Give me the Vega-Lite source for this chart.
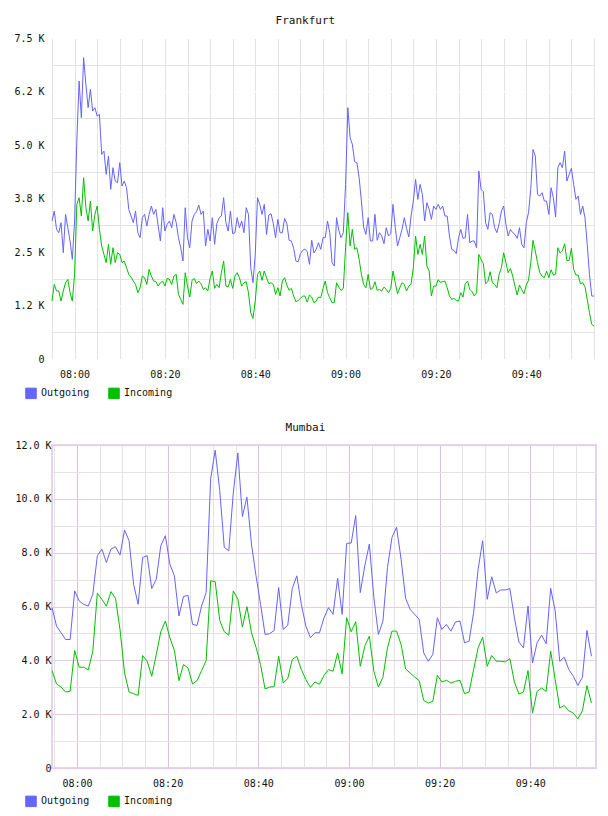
{
  "$schema": "https://vega.github.io/schema/vega-lite/v6.json",
  "background": "white",
  "padding": {"left": 13, "top": 15, "right": 8, "bottom": 4},
  "bounds": "flush",
  "spacing": 86,
  "config": {
    "font": "DejaVu Sans Mono",
    "axis": {
      "labelFont": "DejaVu Sans Mono",
      "labelFontSize": 10,
      "labelColor": "#111111",
      "domain": false,
      "ticks": false,
      "labelFlush": false,
      "labelOverlap": false
    },
    "title": {
      "font": "DejaVu Sans Mono",
      "fontSize": 11,
      "fontWeight": "normal",
      "color": "#111111",
      "anchor": "middle",
      "frame": "bounds",
      "offset": 7
    },
    "legend": {
      "direction": "horizontal",
      "padding": 0,
      "symbolType": "square",
      "symbolSize": 110,
      "symbolOpacity": 1,
      "symbolStrokeColor": "#808080",
      "symbolStrokeWidth": 1,
      "labelFont": "DejaVu Sans Mono",
      "labelFontSize": 10,
      "labelColor": "#111111",
      "labelOffset": 4,
      "columnPadding": 16
    }
  },
  "resolve": {
    "scale": {"color": "independent", "stroke": "independent"},
    "legend": {"color": "independent"}
  },
  "datasets": {
    "fra": [
      {"t":"07:55:00","Outgoing":3224,"Incoming":1354},{"t":"07:55:30","Outgoing":3457,"Incoming":1743},{"t":"07:56:00","Outgoing":3029,"Incoming":1588},{"t":"07:56:30","Outgoing":2951,"Incoming":1588},
      {"t":"07:57:00","Outgoing":3185,"Incoming":1354},{"t":"07:57:30","Outgoing":2483,"Incoming":1588},{"t":"07:58:00","Outgoing":3379,"Incoming":1782},{"t":"07:58:30","Outgoing":3068,"Incoming":1860},
      {"t":"07:59:00","Outgoing":2756,"Incoming":1549},{"t":"07:59:30","Outgoing":2328,"Incoming":1354},{"t":"08:00:00","Outgoing":3224,"Incoming":1977},{"t":"08:00:30","Outgoing":5093,"Incoming":3613},
      {"t":"08:01:00","Outgoing":6495,"Incoming":3769},{"t":"08:01:30","Outgoing":5638,"Incoming":3340},{"t":"08:02:00","Outgoing":7040,"Incoming":4236},{"t":"08:02:30","Outgoing":6417,"Incoming":3535},
      {"t":"08:03:00","Outgoing":5872,"Incoming":3224},{"t":"08:03:30","Outgoing":6300,"Incoming":3691},{"t":"08:04:00","Outgoing":5794,"Incoming":2990},{"t":"08:04:30","Outgoing":5872,"Incoming":3379},
      {"t":"08:05:00","Outgoing":5677,"Incoming":3574},{"t":"08:05:30","Outgoing":5716,"Incoming":3029},{"t":"08:06:00","Outgoing":4781,"Incoming":2639},{"t":"08:06:30","Outgoing":4859,"Incoming":2444},
      {"t":"08:07:00","Outgoing":4314,"Incoming":2250},{"t":"08:07:30","Outgoing":4742,"Incoming":2678},{"t":"08:08:00","Outgoing":3963,"Incoming":2211},{"t":"08:08:30","Outgoing":4470,"Incoming":2600},
      {"t":"08:09:00","Outgoing":4158,"Incoming":2250},{"t":"08:09:30","Outgoing":4119,"Incoming":2483},{"t":"08:10:00","Outgoing":4587,"Incoming":2444},{"t":"08:10:30","Outgoing":4041,"Incoming":2250},
      {"t":"08:11:00","Outgoing":4158,"Incoming":2289},{"t":"08:11:30","Outgoing":4002,"Incoming":2133},{"t":"08:12:00","Outgoing":3496,"Incoming":1977},{"t":"08:12:30","Outgoing":3340,"Incoming":1915},
      {"t":"08:13:00","Outgoing":3185,"Incoming":1821},{"t":"08:13:30","Outgoing":3457,"Incoming":1743},{"t":"08:14:00","Outgoing":2951,"Incoming":1549},{"t":"08:14:30","Outgoing":2834,"Incoming":1665},
      {"t":"08:15:00","Outgoing":3301,"Incoming":1938},{"t":"08:15:30","Outgoing":3379,"Incoming":1899},{"t":"08:16:00","Outgoing":3107,"Incoming":1743},{"t":"08:16:30","Outgoing":3379,"Incoming":2094},
      {"t":"08:17:00","Outgoing":3574,"Incoming":1938},{"t":"08:17:30","Outgoing":3379,"Incoming":1821},{"t":"08:18:00","Outgoing":3496,"Incoming":1806},{"t":"08:18:30","Outgoing":3107,"Incoming":1704},
      {"t":"08:19:00","Outgoing":2756,"Incoming":1782},{"t":"08:19:30","Outgoing":3535,"Incoming":1821},{"t":"08:20:00","Outgoing":2990,"Incoming":1704},{"t":"08:20:30","Outgoing":3146,"Incoming":1883},
      {"t":"08:21:00","Outgoing":3224,"Incoming":1860},{"t":"08:21:30","Outgoing":3068,"Incoming":1743},{"t":"08:22:00","Outgoing":3379,"Incoming":1938},{"t":"08:22:30","Outgoing":3185,"Incoming":1977},
      {"t":"08:23:00","Outgoing":2834,"Incoming":1509},{"t":"08:23:30","Outgoing":2600,"Incoming":1393},{"t":"08:24:00","Outgoing":2289,"Incoming":1276},{"t":"08:24:30","Outgoing":3535,"Incoming":2016},
      {"t":"08:25:00","Outgoing":2834,"Incoming":1704},{"t":"08:25:30","Outgoing":2600,"Incoming":1447},{"t":"08:26:00","Outgoing":3224,"Incoming":1837},{"t":"08:26:30","Outgoing":3379,"Incoming":1883},
      {"t":"08:27:00","Outgoing":3441,"Incoming":1759},{"t":"08:27:30","Outgoing":3597,"Incoming":1821},{"t":"08:28:00","Outgoing":3379,"Incoming":1759},{"t":"08:28:30","Outgoing":3457,"Incoming":1626},
      {"t":"08:29:00","Outgoing":2639,"Incoming":1665},{"t":"08:29:30","Outgoing":3029,"Incoming":1588},{"t":"08:30:00","Outgoing":2756,"Incoming":1883},{"t":"08:30:30","Outgoing":3301,"Incoming":2055},
      {"t":"08:31:00","Outgoing":2678,"Incoming":1650},{"t":"08:31:30","Outgoing":3161,"Incoming":1743},{"t":"08:32:00","Outgoing":3301,"Incoming":1665},{"t":"08:32:30","Outgoing":3340,"Incoming":2016},
      {"t":"08:33:00","Outgoing":3769,"Incoming":2289},{"t":"08:33:30","Outgoing":3185,"Incoming":1704},{"t":"08:34:00","Outgoing":2990,"Incoming":1681},{"t":"08:34:30","Outgoing":3457,"Incoming":1860},
      {"t":"08:35:00","Outgoing":2927,"Incoming":1650},{"t":"08:35:30","Outgoing":2951,"Incoming":1938},{"t":"08:36:00","Outgoing":3301,"Incoming":2016},{"t":"08:36:30","Outgoing":3068,"Incoming":1899},
      {"t":"08:37:00","Outgoing":3223,"Incoming":1704},{"t":"08:37:30","Outgoing":2951,"Incoming":1782},{"t":"08:38:00","Outgoing":3535,"Incoming":1806},{"t":"08:38:30","Outgoing":3379,"Incoming":1549},
      {"t":"08:39:00","Outgoing":2133,"Incoming":1081},{"t":"08:39:30","Outgoing":1782,"Incoming":949},{"t":"08:40:00","Outgoing":2444,"Incoming":1354},{"t":"08:40:30","Outgoing":3769,"Incoming":1977},
      {"t":"08:41:00","Outgoing":3613,"Incoming":2055},{"t":"08:41:30","Outgoing":3379,"Incoming":1837},{"t":"08:42:00","Outgoing":3613,"Incoming":2055},{"t":"08:42:30","Outgoing":2912,"Incoming":1899},
      {"t":"08:43:00","Outgoing":3364,"Incoming":1759},{"t":"08:43:30","Outgoing":3395,"Incoming":1782},{"t":"08:44:00","Outgoing":3161,"Incoming":1743},{"t":"08:44:30","Outgoing":2834,"Incoming":1509},
      {"t":"08:45:00","Outgoing":3262,"Incoming":1665},{"t":"08:45:30","Outgoing":2951,"Incoming":1471},{"t":"08:46:00","Outgoing":2951,"Incoming":1821},{"t":"08:46:30","Outgoing":3286,"Incoming":1899},
      {"t":"08:47:00","Outgoing":3161,"Incoming":1728},{"t":"08:47:30","Outgoing":2772,"Incoming":1603},{"t":"08:48:00","Outgoing":2756,"Incoming":1650},{"t":"08:48:30","Outgoing":2585,"Incoming":1471},
      {"t":"08:49:00","Outgoing":2289,"Incoming":1338},{"t":"08:49:30","Outgoing":2273,"Incoming":1369},{"t":"08:50:00","Outgoing":2460,"Incoming":1416},{"t":"08:50:30","Outgoing":2538,"Incoming":1471},
      {"t":"08:51:00","Outgoing":2569,"Incoming":1471},{"t":"08:51:30","Outgoing":2507,"Incoming":1330},{"t":"08:52:00","Outgoing":2211,"Incoming":1494},{"t":"08:52:30","Outgoing":2772,"Incoming":1447},
      {"t":"08:53:00","Outgoing":2476,"Incoming":1315},{"t":"08:53:30","Outgoing":2561,"Incoming":1354},{"t":"08:54:00","Outgoing":2717,"Incoming":1447},{"t":"08:54:30","Outgoing":2561,"Incoming":1432},
      {"t":"08:55:00","Outgoing":2834,"Incoming":1650},{"t":"08:55:30","Outgoing":2834,"Incoming":1821},{"t":"08:56:00","Outgoing":3224,"Incoming":1549},{"t":"08:56:30","Outgoing":2951,"Incoming":1432},
      {"t":"08:57:00","Outgoing":2250,"Incoming":1315},{"t":"08:57:30","Outgoing":2172,"Incoming":1315},{"t":"08:58:00","Outgoing":3301,"Incoming":1782},{"t":"08:58:30","Outgoing":3005,"Incoming":1681},
      {"t":"08:59:00","Outgoing":2834,"Incoming":1603},{"t":"08:59:30","Outgoing":2951,"Incoming":1650},{"t":"09:00:00","Outgoing":4080,"Incoming":2600},{"t":"09:00:30","Outgoing":5872,"Incoming":3418},
      {"t":"09:01:00","Outgoing":5171,"Incoming":2639},{"t":"09:01:30","Outgoing":5015,"Incoming":3029},{"t":"09:02:00","Outgoing":4610,"Incoming":2561},{"t":"09:02:30","Outgoing":4587,"Incoming":2600},
      {"t":"09:03:00","Outgoing":4236,"Incoming":2328},{"t":"09:03:30","Outgoing":3691,"Incoming":1977},{"t":"09:04:00","Outgoing":3083,"Incoming":1743},{"t":"09:04:30","Outgoing":2912,"Incoming":1665},
      {"t":"09:05:00","Outgoing":3301,"Incoming":1977},{"t":"09:05:30","Outgoing":2756,"Incoming":1626},{"t":"09:06:00","Outgoing":2756,"Incoming":1650},{"t":"09:06:30","Outgoing":3379,"Incoming":1806},
      {"t":"09:07:00","Outgoing":2772,"Incoming":1603},{"t":"09:07:30","Outgoing":2951,"Incoming":1626},{"t":"09:08:00","Outgoing":2873,"Incoming":1588},{"t":"09:08:30","Outgoing":2694,"Incoming":1681},
      {"t":"09:09:00","Outgoing":3068,"Incoming":1626},{"t":"09:09:30","Outgoing":2873,"Incoming":1549},{"t":"09:10:00","Outgoing":2927,"Incoming":1650},{"t":"09:10:30","Outgoing":3613,"Incoming":2055},
      {"t":"09:11:00","Outgoing":3068,"Incoming":1782},{"t":"09:11:30","Outgoing":2639,"Incoming":1525},{"t":"09:12:00","Outgoing":2834,"Incoming":1665},{"t":"09:12:30","Outgoing":3029,"Incoming":1782},
      {"t":"09:13:00","Outgoing":3301,"Incoming":1743},{"t":"09:13:30","Outgoing":3052,"Incoming":1588},{"t":"09:14:00","Outgoing":2850,"Incoming":1704},{"t":"09:14:30","Outgoing":3340,"Incoming":1743},
      {"t":"09:15:00","Outgoing":3691,"Incoming":2133},{"t":"09:15:30","Outgoing":4197,"Incoming":2873},{"t":"09:16:00","Outgoing":3730,"Incoming":2444},{"t":"09:16:30","Outgoing":4080,"Incoming":2678},
      {"t":"09:17:00","Outgoing":3847,"Incoming":2444},{"t":"09:17:30","Outgoing":3224,"Incoming":2873},{"t":"09:18:00","Outgoing":3652,"Incoming":2172},{"t":"09:18:30","Outgoing":3496,"Incoming":2055},
      {"t":"09:19:00","Outgoing":3262,"Incoming":1471},{"t":"09:19:30","Outgoing":3574,"Incoming":1704},{"t":"09:20:00","Outgoing":3496,"Incoming":1704},{"t":"09:20:30","Outgoing":3613,"Incoming":1852},
      {"t":"09:21:00","Outgoing":3496,"Incoming":1790},{"t":"09:21:30","Outgoing":3574,"Incoming":1806},{"t":"09:22:00","Outgoing":3340,"Incoming":1821},{"t":"09:22:30","Outgoing":3340,"Incoming":1665},
      {"t":"09:23:00","Outgoing":2873,"Incoming":1471},{"t":"09:23:30","Outgoing":2561,"Incoming":1393},{"t":"09:24:00","Outgoing":2538,"Incoming":1416},{"t":"09:24:30","Outgoing":2460,"Incoming":1369},
      {"t":"09:25:00","Outgoing":2834,"Incoming":1354},{"t":"09:25:30","Outgoing":3029,"Incoming":1549},{"t":"09:26:00","Outgoing":2818,"Incoming":1447},{"t":"09:26:30","Outgoing":2834,"Incoming":1759},
      {"t":"09:27:00","Outgoing":3379,"Incoming":1821},{"t":"09:27:30","Outgoing":2717,"Incoming":1626},{"t":"09:28:00","Outgoing":2756,"Incoming":1572},{"t":"09:28:30","Outgoing":2756,"Incoming":1471},
      {"t":"09:29:00","Outgoing":2600,"Incoming":1549},{"t":"09:29:30","Outgoing":4392,"Incoming":2444},{"t":"09:30:00","Outgoing":3963,"Incoming":2328},{"t":"09:30:30","Outgoing":3909,"Incoming":2226},
      {"t":"09:31:00","Outgoing":3185,"Incoming":1759},{"t":"09:31:30","Outgoing":3029,"Incoming":1806},{"t":"09:32:00","Outgoing":3418,"Incoming":2039},{"t":"09:32:30","Outgoing":3379,"Incoming":1782},
      {"t":"09:33:00","Outgoing":3068,"Incoming":1743},{"t":"09:33:30","Outgoing":2951,"Incoming":1665},{"t":"09:34:00","Outgoing":3161,"Incoming":1977},{"t":"09:34:30","Outgoing":3457,"Incoming":2133},
      {"t":"09:35:00","Outgoing":3574,"Incoming":2483},{"t":"09:35:30","Outgoing":3146,"Incoming":2250},{"t":"09:36:00","Outgoing":2873,"Incoming":2016},{"t":"09:36:30","Outgoing":3029,"Incoming":2117},
      {"t":"09:37:00","Outgoing":2951,"Incoming":1938},{"t":"09:37:30","Outgoing":2912,"Incoming":1704},{"t":"09:38:00","Outgoing":2818,"Incoming":1494},{"t":"09:38:30","Outgoing":3068,"Incoming":1728},
      {"t":"09:39:00","Outgoing":2678,"Incoming":1619},{"t":"09:39:30","Outgoing":2600,"Incoming":1525},{"t":"09:40:00","Outgoing":3185,"Incoming":1728},{"t":"09:40:30","Outgoing":3418,"Incoming":1837},
      {"t":"09:41:00","Outgoing":3964,"Incoming":2250},{"t":"09:41:30","Outgoing":4898,"Incoming":2772},{"t":"09:42:00","Outgoing":4743,"Incoming":2522},{"t":"09:42:30","Outgoing":3847,"Incoming":2250},
      {"t":"09:43:00","Outgoing":3808,"Incoming":2016},{"t":"09:43:30","Outgoing":3885,"Incoming":1938},{"t":"09:44:00","Outgoing":3691,"Incoming":1899},{"t":"09:44:30","Outgoing":3691,"Incoming":2055},
      {"t":"09:45:00","Outgoing":3379,"Incoming":1899},{"t":"09:45:30","Outgoing":4002,"Incoming":2086},{"t":"09:46:00","Outgoing":3769,"Incoming":1961},{"t":"09:46:30","Outgoing":3317,"Incoming":1977},
      {"t":"09:47:00","Outgoing":4470,"Incoming":2600},{"t":"09:47:30","Outgoing":4587,"Incoming":2476},{"t":"09:48:00","Outgoing":4470,"Incoming":2522},{"t":"09:48:30","Outgoing":4859,"Incoming":2694},
      {"t":"09:49:00","Outgoing":4158,"Incoming":2304},{"t":"09:49:30","Outgoing":4314,"Incoming":2304},{"t":"09:50:00","Outgoing":4454,"Incoming":2585},{"t":"09:50:30","Outgoing":4080,"Incoming":2094},
      {"t":"09:51:00","Outgoing":3730,"Incoming":1961},{"t":"09:51:30","Outgoing":3808,"Incoming":1961},{"t":"09:52:00","Outgoing":3379,"Incoming":1759},{"t":"09:52:30","Outgoing":3574,"Incoming":1782},
      {"t":"09:53:00","Outgoing":3301,"Incoming":1689},{"t":"09:53:30","Outgoing":2678,"Incoming":1393},{"t":"09:54:00","Outgoing":1977,"Incoming":1081},{"t":"09:54:30","Outgoing":1471,"Incoming":809},
      {"t":"09:55:00","Outgoing":1471,"Incoming":770}
    ],
    "mum": [
      {"t":"07:54:30","Outgoing":5957,"Incoming":3618},{"t":"07:55:30","Outgoing":5273,"Incoming":3121},{"t":"07:56:30","Outgoing":5024,"Incoming":3009},{"t":"07:57:30","Outgoing":4775,"Incoming":2822},
      {"t":"07:58:30","Outgoing":4775,"Incoming":2847},{"t":"07:59:30","Outgoing":6579,"Incoming":4365},{"t":"08:00:30","Outgoing":6206,"Incoming":3743},{"t":"08:01:30","Outgoing":6081,"Incoming":3743},
      {"t":"08:02:30","Outgoing":6019,"Incoming":3643},{"t":"08:03:30","Outgoing":6455,"Incoming":4340},{"t":"08:04:30","Outgoing":7885,"Incoming":6492},{"t":"08:05:30","Outgoing":8134,"Incoming":6268},
      {"t":"08:06:30","Outgoing":7636,"Incoming":6007},{"t":"08:07:30","Outgoing":8134,"Incoming":6554},{"t":"08:08:30","Outgoing":8221,"Incoming":6305},{"t":"08:09:30","Outgoing":7910,"Incoming":5148},
      {"t":"08:10:30","Outgoing":8843,"Incoming":3531},{"t":"08:11:30","Outgoing":8445,"Incoming":2822},{"t":"08:12:30","Outgoing":6828,"Incoming":2760},{"t":"08:13:30","Outgoing":6081,"Incoming":2698},
      {"t":"08:14:30","Outgoing":7823,"Incoming":4178},{"t":"08:15:30","Outgoing":7885,"Incoming":3967},{"t":"08:16:30","Outgoing":6666,"Incoming":3407},{"t":"08:17:30","Outgoing":7014,"Incoming":4216},
      {"t":"08:18:30","Outgoing":8259,"Incoming":5061},{"t":"08:19:30","Outgoing":8632,"Incoming":5459},{"t":"08:20:30","Outgoing":7574,"Incoming":4837},{"t":"08:21:30","Outgoing":7139,"Incoming":4365},
      {"t":"08:22:30","Outgoing":5646,"Incoming":3245},{"t":"08:23:30","Outgoing":6368,"Incoming":3842},{"t":"08:24:30","Outgoing":6417,"Incoming":3718},{"t":"08:25:30","Outgoing":5335,"Incoming":3121},
      {"t":"08:26:30","Outgoing":5298,"Incoming":3245},{"t":"08:27:30","Outgoing":6019,"Incoming":3618},{"t":"08:28:30","Outgoing":6517,"Incoming":3992},{"t":"08:29:30","Outgoing":10746,"Incoming":6952},
      {"t":"08:30:30","Outgoing":11804,"Incoming":6927},{"t":"08:31:30","Outgoing":10311,"Incoming":5484},{"t":"08:32:30","Outgoing":8196,"Incoming":5061},{"t":"08:33:30","Outgoing":8072,"Incoming":4937},
      {"t":"08:34:30","Outgoing":10249,"Incoming":6579},{"t":"08:35:30","Outgoing":11704,"Incoming":6268},{"t":"08:36:30","Outgoing":9341,"Incoming":5235},{"t":"08:37:30","Outgoing":10062,"Incoming":5994},
      {"t":"08:38:30","Outgoing":8321,"Incoming":5024},{"t":"08:39:30","Outgoing":7139,"Incoming":4489},{"t":"08:40:30","Outgoing":6081,"Incoming":3842},{"t":"08:41:30","Outgoing":4962,"Incoming":2934},
      {"t":"08:42:30","Outgoing":4987,"Incoming":3009},{"t":"08:43:30","Outgoing":5111,"Incoming":3021},{"t":"08:44:30","Outgoing":6704,"Incoming":4153},{"t":"08:45:30","Outgoing":5148,"Incoming":3158},
      {"t":"08:46:30","Outgoing":5298,"Incoming":3320},{"t":"08:47:30","Outgoing":6666,"Incoming":4029},{"t":"08:48:30","Outgoing":7139,"Incoming":4153},{"t":"08:49:30","Outgoing":6081,"Incoming":3655},
      {"t":"08:50:30","Outgoing":5273,"Incoming":3282},{"t":"08:51:30","Outgoing":4837,"Incoming":2996},{"t":"08:52:30","Outgoing":5024,"Incoming":3195},{"t":"08:53:30","Outgoing":5024,"Incoming":3110},
      {"t":"08:54:30","Outgoing":5580,"Incoming":3440},{"t":"08:55:30","Outgoing":5957,"Incoming":3656},{"t":"08:56:30","Outgoing":5708,"Incoming":3594},{"t":"08:57:30","Outgoing":7052,"Incoming":4278},
      {"t":"08:58:30","Outgoing":5708,"Incoming":3494},{"t":"08:59:30","Outgoing":8345,"Incoming":5584},{"t":"09:00:30","Outgoing":8358,"Incoming":5061},{"t":"09:01:30","Outgoing":9378,"Incoming":5434},
      {"t":"09:02:30","Outgoing":6517,"Incoming":3780},{"t":"09:03:30","Outgoing":7512,"Incoming":4527},{"t":"09:04:30","Outgoing":8321,"Incoming":4900},{"t":"09:05:30","Outgoing":6330,"Incoming":3594},
      {"t":"09:06:30","Outgoing":4962,"Incoming":3009},{"t":"09:07:30","Outgoing":5460,"Incoming":3370},{"t":"09:08:30","Outgoing":7450,"Incoming":4464},{"t":"09:09:30","Outgoing":8569,"Incoming":5086},
      {"t":"09:10:30","Outgoing":8943,"Incoming":5086},{"t":"09:11:30","Outgoing":7761,"Incoming":4589},{"t":"09:12:30","Outgoing":6305,"Incoming":3680},{"t":"09:13:30","Outgoing":5895,"Incoming":3531},
      {"t":"09:14:30","Outgoing":5708,"Incoming":3382},{"t":"09:15:30","Outgoing":5522,"Incoming":3245},{"t":"09:16:30","Outgoing":4278,"Incoming":2511},{"t":"09:17:30","Outgoing":3967,"Incoming":2412},
      {"t":"09:18:30","Outgoing":4216,"Incoming":2474},{"t":"09:19:30","Outgoing":5584,"Incoming":3444},{"t":"09:20:30","Outgoing":5148,"Incoming":3195},{"t":"09:21:30","Outgoing":5335,"Incoming":3258},
      {"t":"09:22:30","Outgoing":5086,"Incoming":3158},{"t":"09:23:30","Outgoing":5422,"Incoming":3220},{"t":"09:24:30","Outgoing":5460,"Incoming":3258},{"t":"09:25:30","Outgoing":4651,"Incoming":2760},
      {"t":"09:26:30","Outgoing":4713,"Incoming":2822},{"t":"09:27:30","Outgoing":5770,"Incoming":3656},{"t":"09:28:30","Outgoing":7388,"Incoming":4464},{"t":"09:29:30","Outgoing":8445,"Incoming":4862},
      {"t":"09:30:30","Outgoing":6268,"Incoming":3780},{"t":"09:31:30","Outgoing":7101,"Incoming":4178},{"t":"09:32:30","Outgoing":6504,"Incoming":3967},{"t":"09:33:30","Outgoing":6616,"Incoming":3967},
      {"t":"09:34:30","Outgoing":6616,"Incoming":3942},{"t":"09:35:30","Outgoing":6666,"Incoming":4066},{"t":"09:36:30","Outgoing":5584,"Incoming":3195},{"t":"09:37:30","Outgoing":4676,"Incoming":2748},
      {"t":"09:38:30","Outgoing":4464,"Incoming":2822},{"t":"09:39:30","Outgoing":6019,"Incoming":3618},{"t":"09:40:30","Outgoing":3904,"Incoming":2038},{"t":"09:41:30","Outgoing":4651,"Incoming":2847},
      {"t":"09:42:30","Outgoing":4937,"Incoming":2971},{"t":"09:43:30","Outgoing":4614,"Incoming":2847},{"t":"09:44:30","Outgoing":6678,"Incoming":4340},{"t":"09:45:30","Outgoing":5833,"Incoming":3282},
      {"t":"09:46:30","Outgoing":3967,"Incoming":2225},{"t":"09:47:30","Outgoing":4116,"Incoming":2324},{"t":"09:48:30","Outgoing":3656,"Incoming":2125},{"t":"09:49:30","Outgoing":3407,"Incoming":2038},
      {"t":"09:50:30","Outgoing":3071,"Incoming":1827},{"t":"09:51:30","Outgoing":3370,"Incoming":2125},{"t":"09:52:30","Outgoing":5111,"Incoming":3059},{"t":"09:53:30","Outgoing":4153,"Incoming":2412}
    ]
  },
  "vconcat": [
    {
      "title": "Frankfurt",
      "width": 542,
      "height": 321,
      "view": {"stroke": null},
      "data": {"name": "fra", "format": {"parse": {"t": "date:'%H:%M:%S'"}}},
      "transform": [{"fold": ["Outgoing", "Incoming"], "as": ["dir", "v"]}],
      "encoding": {
        "x": {
          "field": "t",
          "type": "temporal",
          "title": null,
          "axis": {
            "labelExpr": "minutes(datum.value) % 20 == 0 ? timeFormat(datum.value, '%H:%M') : ''",
            "gridColor": "#e3e3e3",
            "labelPadding": 10
          }
        },
        "y": {
          "field": "v",
          "type": "quantitative",
          "title": null,
          "scale": {"domain": [0, 7500], "nice": false},
          "axis": {
            "values": [0, 625, 1250, 1875, 2500, 3125, 3750, 4375, 5000, 5625, 6250, 6875, 7500],
            "labelExpr": "datum.value % 1250 != 0 ? '' : datum.value == 0 ? '0' : datum.value == 6250 ? '6.2 K' : datum.value == 1250 ? '1.2 K' : format(datum.value / 1000, '.1f') + ' K'",
            "gridColor": {"condition": {"test": "datum.value % 1250 == 0", "value": "#ffffff"}, "value": "#e3e3e3"},
            "labelPadding": 8
          }
        }
      },
      "layer": [
        {
          "mark": {"type": "square", "opacity": 0},
          "encoding": {
            "color": {
              "field": "dir",
              "type": "nominal",
              "scale": {"domain": ["Outgoing", "Incoming"], "range": ["#6464ff", "#00c000"]},
              "legend": {"title": null, "orient": "none", "legendX": -27, "legendY": 349}
            }
          }
        },
        {
          "mark": {"type": "line", "strokeWidth": 1},
          "encoding": {
            "stroke": {
              "field": "dir",
              "type": "nominal",
              "scale": {"domain": ["Outgoing", "Incoming"], "range": ["#6464ff", "#00c000"]},
              "legend": null
            }
          }
        }
      ]
    },
    {
      "title": "Mumbai",
      "width": 544,
      "height": 323,
      "view": {"stroke": "#e8d4e8", "strokeWidth": 2},
      "data": {"name": "mum", "format": {"parse": {"t": "date:'%H:%M:%S'"}}},
      "transform": [{"fold": ["Outgoing", "Incoming"], "as": ["dir", "v"]}],
      "encoding": {
        "x": {
          "field": "t",
          "type": "temporal",
          "title": null,
          "scale": {
            "domain": [
              {"year": 1900, "month": 1, "date": 1, "hours": 7, "minutes": 54, "seconds": 30},
              {"year": 1900, "month": 1, "date": 1, "hours": 9, "minutes": 54, "seconds": 30}
            ]
          },
          "axis": {
            "labelExpr": "minutes(datum.value) % 20 == 0 ? timeFormat(datum.value, '%H:%M') : ''",
            "gridColor": {"condition": {"test": "minutes(datum.value) % 20 == 0", "value": "#dcc0dc"}, "value": "#e3e3e3"},
            "labelPadding": 10
          }
        },
        "y": {
          "field": "v",
          "type": "quantitative",
          "title": null,
          "scale": {"domain": [0, 12000], "nice": false},
          "axis": {
            "values": [0, 1000, 2000, 3000, 4000, 5000, 6000, 7000, 8000, 9000, 10000, 11000, 12000],
            "labelExpr": "datum.value % 2000 != 0 ? '' : datum.value == 0 ? '0' : format(datum.value / 1000, '.1f') + ' K'",
            "gridColor": {"condition": {"test": "datum.value % 2000 == 0", "value": "#e6cce6"}, "value": "#e3e3e3"},
            "labelPadding": 1
          }
        }
      },
      "layer": [
        {
          "mark": {"type": "square", "opacity": 0},
          "encoding": {
            "color": {
              "field": "dir",
              "type": "nominal",
              "scale": {"domain": ["Outgoing", "Incoming"], "range": ["#6464ff", "#00c000"]},
              "legend": {"title": null, "orient": "none", "legendX": -27, "legendY": 350}
            }
          }
        },
        {
          "mark": {"type": "line", "strokeWidth": 1},
          "encoding": {
            "stroke": {
              "field": "dir",
              "type": "nominal",
              "scale": {"domain": ["Outgoing", "Incoming"], "range": ["#6464ff", "#00c000"]},
              "legend": null
            }
          }
        }
      ]
    }
  ]
}
